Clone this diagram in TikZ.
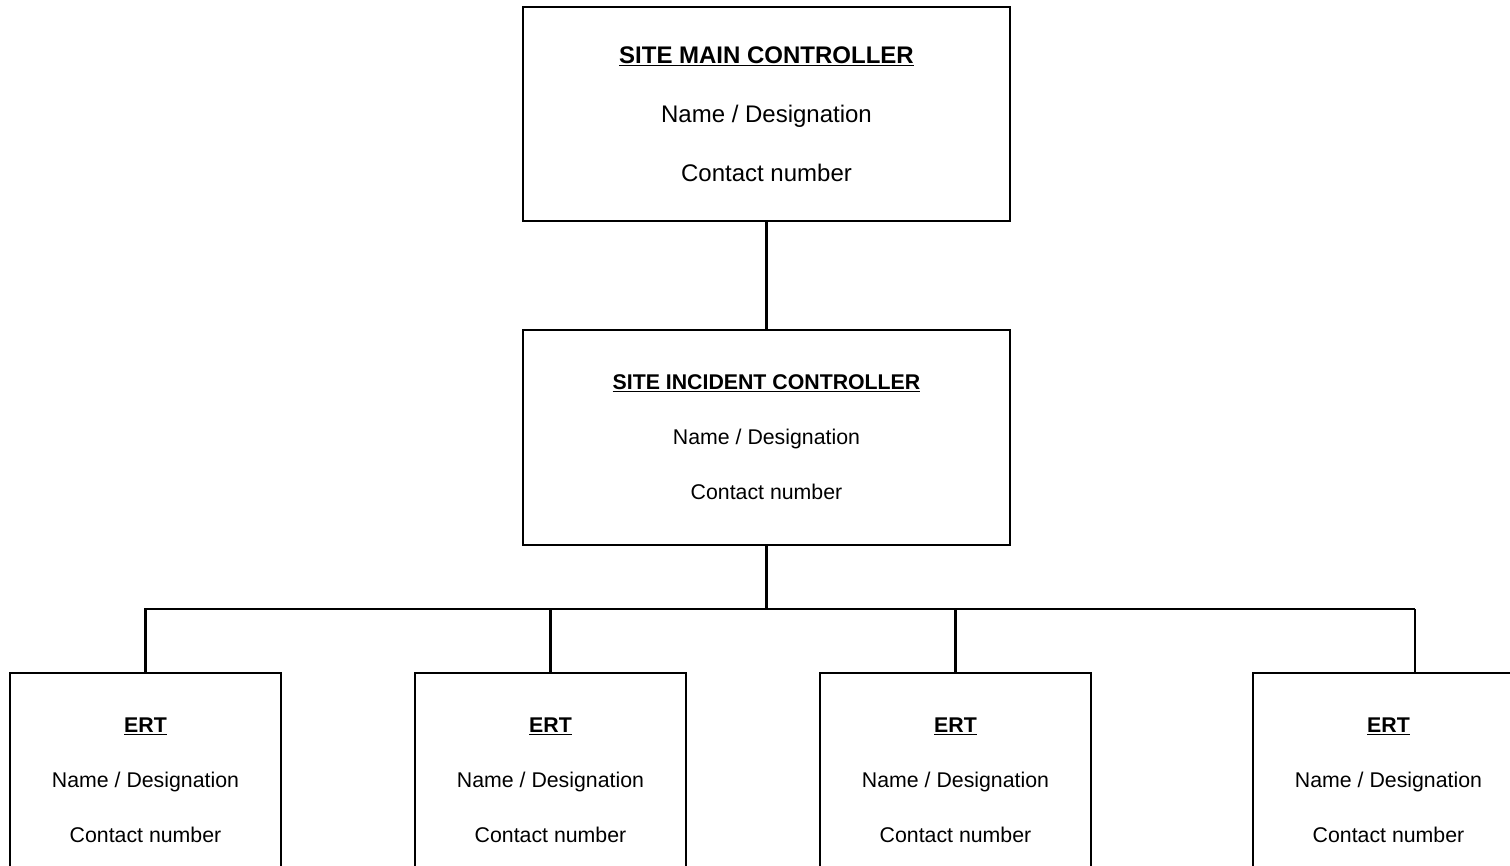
\documentclass[tikz,border=0pt]{standalone}
\usepackage{fontspec}
\setmainfont{Liberation Sans}
\usepackage{tikz}
\usetikzlibrary{positioning,calc}

\begin{document}
\begin{tikzpicture}[x=1pt, y=-1pt, %
        chartbox/.style={draw, line width=2.2pt, rectangle, inner sep=0pt,
          outer sep=0pt, align=center, fill=white},
        topbox/.style={chartbox, minimum width=487pt, minimum height=214pt,
          font=\fontsize{24}{59}\selectfont},
        midbox/.style={chartbox, minimum width=487pt, minimum height=215pt,
          font=\fontsize{21.3}{55}\selectfont},
        ertbox/.style={chartbox, minimum width=271pt, minimum height=215pt,
          font=\fontsize{21.3}{55}\selectfont},
        link/.style={line width=2.2pt}
        ]
        \clip (0,0) rectangle (1510,865);
        \node[topbox] (smc) at (766.5,114) {\underline{\textbf{SITE MAIN CONTROLLER}}\\
          Name / Designation\\ Contact number};
        \node[midbox, below = 109pt of smc] (sic) {\underline{\textbf{SITE INCIDENT CONTROLLER}}\\
          Name / Designation\\ Contact number};
        \node[ertbox] (ert1) at (145.5,780.5) {\underline{\textbf{ERT}}\\
          Name / Designation\\ Contact number};
        \node[ertbox, right = 134pt of ert1] (ert2) {\underline{\textbf{ERT}}\\
          Name / Designation\\ Contact number};
        \node[ertbox, right = 134pt of ert2] (ert3) {\underline{\textbf{ERT}}\\
          Name / Designation\\ Contact number};
        \node[ertbox, right = 162pt of ert3] (ert4) {\underline{\textbf{ERT}}\\
          Name / Designation\\ Contact number};
        % connectors
        \coordinate[below = 64pt of sic.south] (bus);
        \coordinate (drop4) at (1415,609);
        \draw[link] (smc) -- (sic);
        \draw[link] (sic) -- (bus);
        \draw[link] (ert1.north) |- (drop4);
        \draw[link] (ert2.north) -- (ert2.north |- bus);
        \draw[link] (ert3.north) -- (ert3.north |- bus);
        \draw[link] (drop4) -- (drop4 |- ert4.north);
      \end{tikzpicture}
\end{document}
